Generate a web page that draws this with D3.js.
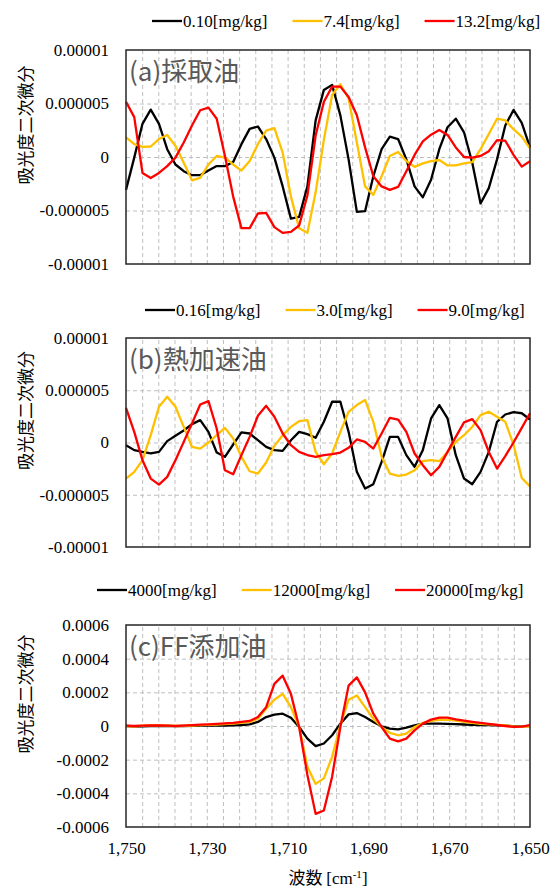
<!DOCTYPE html>
<html>
<head>
<meta charset="utf-8">
<script src="https://cdn.jsdelivr.net/npm/d3@7/dist/d3.min.js"></script>
<style>
	body { margin: 0; background: #fff; }
	.tick text { font-family: "Liberation Serif", "Times New Roman", serif; font-size: 17px; fill: #000; }
</style>
</head>
<body>
<svg id="chart" width="554" height="891"></svg>
<script>
// wavenumbers [cm-1], shared by all series
var wavenumbers = [1750.00, 1747.96, 1745.92, 1743.88, 1741.84, 1739.80, 1737.76, 1735.71, 1733.67, 1731.63,
	1729.59, 1727.55, 1725.51, 1723.47, 1721.43, 1719.39, 1717.35, 1715.31, 1713.27, 1711.22,
	1709.18, 1707.14, 1705.10, 1703.06, 1701.02, 1698.98, 1696.94, 1694.90, 1692.86, 1690.82,
	1688.78, 1686.73, 1684.69, 1682.65, 1680.61, 1678.57, 1676.53, 1674.49, 1672.45, 1670.41,
	1668.37, 1666.33, 1664.29, 1662.24, 1660.20, 1658.16, 1656.12, 1654.08, 1652.04, 1650.00];

// (a) values in 1e-6
var blackA = [-3.07, -0.06, 3.1, 4.43, 3.1, 0.73, -0.7, -1.33, -1.7, -1.7,
	-1.27, -0.85, -0.85, -0.47, 1.2, 2.63, 2.85, 1.68, -0.06, -2.75,
	-5.76, -5.6, -2.75, 3.42, 6.27, 6.74, 3.89, -0.22, -5.13, -5.06,
	-1.8, 0.73, 1.9, 1.68, -0.22, -2.75, -3.77, -2.12, 0.73, 2.78,
	3.58, 2.31, -0.54, -4.34, -2.91, -0.22, 2.94, 4.4, 3.2, 0.9];
var yellowA = [1.84, 1.2, 0.95, 0.98, 1.68, 2.06, 1.04, -0.54, -2.18, -1.96,
	-0.7, 0.1, -0.06, -0.7, -1.27, -0.38, 1.2, 2.47, 2.69, 0.41,
	-3.7, -6.65, -7.09, -3.3, 1.6, 5.8, 6.8, 5.47, 1.36, -2.75,
	-3.54, -1.8, 0.1, 0.47, -0.38, -0.92, -0.6, -0.38, -0.28, -0.79,
	-0.79, -0.6, -0.47, 0.73, 2.15, 3.58, 3.42, 2.6, 1.9, 0.8];
var redA = [5.16, 3.73, -1.49, -1.96, -1.49, -0.85, -0.06, 1.36, 2.94, 4.37,
	4.62, 3.58, 0.1, -3.7, -6.65, -6.65, -5.28, -5.22, -6.55, -7.09,
	-7.0, -6.4, -3.6, 2.0, 5.16, 6.58, 6.58, 5.6, 3.9, 0.9,
	-1.8, -2.75, -3.07, -2.8, -1.33, 0.19, 1.46, 2.09, 2.53, 2.06,
	0.89, 0, -0.06, 0.1, 0.54, 1.58, 1.52, 0.2, -0.9, -0.4];

// (b) values in 1e-6
var blackB = [-0.26, -0.73, -0.9, -1.05, -0.9, 0.13, 0.64, 1.15, 1.76, 2.14,
	1.02, -0.96, -1.37, -0.19, 0.96, 0.86, 0.22, -0.42, -0.73, -0.8,
	0.22, 1.02, 0.8, 0.45, 1.98, 3.9, 3.9, 1.02, -2.81, -4.41,
	-3.99, -1.85, 0.54, 0.54, -1.21, -2.33, -0.73, 2.3, 3.58, 2.3,
	-1.21, -3.45, -3.99, -2.81, -0.9, 1.98, 2.68, 2.9, 2.8, 2.2];
var yellowB = [-3.45, -2.81, -1.69, 0.7, 3.42, 4.38, 3.42, 1.5, -0.42, -0.58,
	0, 0.7, 1.4, 0.38, -1.37, -2.75, -2.97, -1.92, -0.32, 0.7,
	1.5, 2.04, 2.14, -0.9, -2.08, -1.05, 1.02, 2.94, 3.58, 4.06,
	1.98, -1.37, -2.97, -3.19, -3.07, -2.65, -1.79, -1.69, -1.79, -0.9,
	0.06, 0.7, 1.5, 2.62, 2.94, 2.46, 1.98, -0.2, -3.4, -4.2];
var redB = [3.32, 1.02, -1.69, -3.45, -4.03, -3.29, -1.69, 0.06, 1.82, 3.64,
	3.96, 1.34, -2.65, -3.04, -1.21, 0.54, 2.56, 3.51, 2.46, 0.86,
	-0.26, -0.9, -1.2, -1.37, -1.21, -1.12, -0.96, -0.51, 0.29, 0.06,
	-0.58, 0.86, 2.36, 2.2, 1.02, -1.05, -2.17, -3.13, -2.33, -0.9,
	0.54, 1.92, 2.24, 1.18, -0.9, -2.49, -1.3, 0.0, 1.4, 2.8];

// (c) values in 1e-4
var blackC = [0, -0.03, -0.02, 0, 0.01, 0, -0.01, 0, 0.01, 0.02,
	0.02, 0.03, 0.03, 0.04, 0.06, 0.1, 0.24, 0.53, 0.67, 0.73,
	0.49, -0.06, -0.75, -1.2, -1.04, -0.55, 0.14, 0.69, 0.77, 0.53,
	0.24, -0.02, -0.16, -0.2, -0.1, 0.04, 0.14, 0.14, 0.14, 0.13,
	0.11, 0.09, 0.07, 0.05, 0.05, 0.04, 0.02, -0.01, -0.02, 0];
var yellowC = [0, -0.03, 0.02, 0.05, 0.04, 0.02, 0, 0.01, 0.03, 0.05,
	0.07, 0.09, 0.11, 0.14, 0.18, 0.24, 0.43, 1.02, 1.56, 1.91,
	1.12, -0.06, -2.42, -3.44, -3.11, -1.83, 0.04, 1.56, 1.81, 1.12,
	0.43, -0.06, -0.41, -0.55, -0.45, -0.06, 0.18, 0.3, 0.37, 0.38,
	0.32, 0.25, 0.18, 0.13, 0.1, 0.07, 0.03, -0.02, -0.04, -0.02];
var redC = [0.02, 0, 0.02, 0.03, 0.04, 0.02, 0, 0.02, 0.05, 0.08,
	0.1, 0.13, 0.16, 0.18, 0.24, 0.3, 0.53, 1.12, 2.5, 2.99,
	1.91, -0.06, -2.91, -5.22, -5.02, -3.01, -0.06, 2.4, 2.89, 2.0,
	0.73, -0.06, -0.75, -0.91, -0.75, -0.26, 0.14, 0.38, 0.5, 0.5,
	0.4, 0.32, 0.25, 0.18, 0.12, 0.06, 0, -0.05, -0.04, 0.05];

var legendA = ["0.10[mg/kg]", "7.4[mg/kg]", "13.2[mg/kg]"];
var legendB = ["0.16[mg/kg]", "3.0[mg/kg]", "9.0[mg/kg]"];
var legendC = ["4000[mg/kg]", "12000[mg/kg]", "20000[mg/kg]"];

var yTicksSmall = [-0.00001, -0.000005, 0, 0.000005, 0.00001];
var yLabelsSmall = ["-0.00001", "-0.000005", "0", "0.000005", "0.00001"];
var yTicksLarge = [-0.0006, -0.0004, -0.0002, 0, 0.0002, 0.0004, 0.0006];
var yLabelsLarge = ["-0.0006", "-0.0004", "-0.0002", "0", "0.0002", "0.0004", "0.0006"];
var xTicks = [1750, 1730, 1710, 1690, 1670, 1650];

var colors = ["#000000", "#FFC000", "#FF0000"];

var panels = [
	{ label: "(a)採取油", series: [blackA, yellowA, redA], unit: 1e-6, legend: legendA,
		top: 50, bottom: 264, legendY: 21, legendX: 152, ticks: yTicksSmall, tickLabels: yLabelsSmall },
	{ label: "(b)熱加速油", series: [blackB, yellowB, redB], unit: 1e-6, legend: legendB,
		top: 338, bottom: 547, legendY: 310, legendX: 145, ticks: yTicksSmall, tickLabels: yLabelsSmall },
	{ label: "(c)FF添加油", series: [blackC, yellowC, redC], unit: 1e-4, legend: legendC,
		top: 625, bottom: 827, legendY: 590, legendX: 97, ticks: yTicksLarge, tickLabels: yLabelsLarge }
];

var left = 126, right = 530;
var serif = '"Liberation Serif", "Times New Roman", serif';
var cjk = '"Noto Sans CJK JP", "Noto Sans", sans-serif';

var svg = d3.select("#chart");

var x = d3.scaleLinear().domain([1750, 1650]).range([left, right]);

panels.forEach(function (p, pi) {
	var y = d3.scaleLinear()
		.domain([p.ticks[0], p.ticks[p.ticks.length - 1]])
		.range([p.bottom, p.top]);
	var h = p.bottom - p.top;

	var g = svg.append("g");

	// vertical gridlines every 4 cm-1
	g.append("g")
		.attr("transform", "translate(0," + p.bottom + ")")
		.call(d3.axisBottom(x).tickValues(d3.range(1746, 1651, -4)).tickSize(-h).tickFormat(""))
		.call(function (s) {
			s.select(".domain").remove();
			s.selectAll("line").attr("stroke", "#BFBFBF").attr("stroke-dasharray", "4,3");
		});

	// horizontal gridlines + y labels
	g.append("g")
		.attr("transform", "translate(" + left + ",0)")
		.call(d3.axisLeft(y).tickValues(p.ticks).tickSize(-(right - left)).tickPadding(17)
			.tickFormat(function (d, i) { return p.tickLabels[i]; }))
		.call(function (s) {
			s.select(".domain").remove();
			s.selectAll("line")
				.attr("stroke", "#BFBFBF").attr("stroke-dasharray", "4,3")
				.filter(function (d, i) { return i === 0 || i === p.ticks.length - 1; }).remove();
		});

	// lines
	var line = d3.line()
		.x(function (d, i) { return x(wavenumbers[i]); })
		.y(function (d) { return y(d * p.unit); });

	p.series.forEach(function (values, si) {
		g.append("path")
			.datum(values)
			.attr("fill", "none")
			.attr("stroke", colors[si])
			.attr("stroke-width", 2.3)
			.attr("stroke-linejoin", "round")
			.attr("d", line);
	});

	// plot border
	g.append("rect")
		.attr("x", left).attr("y", p.top)
		.attr("width", right - left).attr("height", h)
		.attr("fill", "none").attr("stroke", "#262626").attr("stroke-width", 1.5);

	// panel label
	g.append("text")
		.attr("x", left + 3).attr("y", p.top + 31)
		.attr("font-family", cjk).attr("font-size", 26).attr("fill", "#595959")
		.text(p.label);

	// y axis title
	g.append("text")
		.attr("transform", "translate(24," + (p.top + h / 2 - 32) + ") rotate(-90)")
		.attr("text-anchor", "middle").attr("dominant-baseline", "central")
		.attr("font-family", cjk).attr("font-size", 17).attr("fill", "#000")
		.text("吸光度二次微分");

	// legend
	var lx = p.legendX;
	p.legend.forEach(function (name, si) {
		g.append("line")
			.attr("x1", lx).attr("x2", lx + 30)
			.attr("y1", p.legendY).attr("y2", p.legendY)
			.attr("stroke", colors[si]).attr("stroke-width", 2.3);
		var t = g.append("text")
			.attr("x", lx + 31).attr("y", p.legendY + 6)
			.attr("font-family", serif).attr("font-size", 17).attr("fill", "#000")
			.text(name);
		lx += 31 + t.node().getComputedTextLength() + 25;
	});

	// x labels only on the bottom panel
	if (pi === panels.length - 1) {
		g.append("g")
			.attr("transform", "translate(0," + p.bottom + ")")
			.call(d3.axisBottom(x).tickValues(xTicks).tickSize(0).tickPadding(15).tickFormat(d3.format(",")))
			.call(function (s) { s.select(".domain").remove(); });

		var title = g.append("text")
			.attr("x", (left + right) / 2).attr("y", 884)
			.attr("text-anchor", "middle")
			.attr("font-family", serif).attr("font-size", 17).attr("fill", "#000");
		title.append("tspan").attr("font-family", cjk).text("波数 ");
		title.append("tspan").text("[cm");
		title.append("tspan").attr("font-size", 11).attr("dy", -6).text("-1");
		title.append("tspan").attr("dy", 6).text("]");
	}
});
</script>
</body>
</html>
